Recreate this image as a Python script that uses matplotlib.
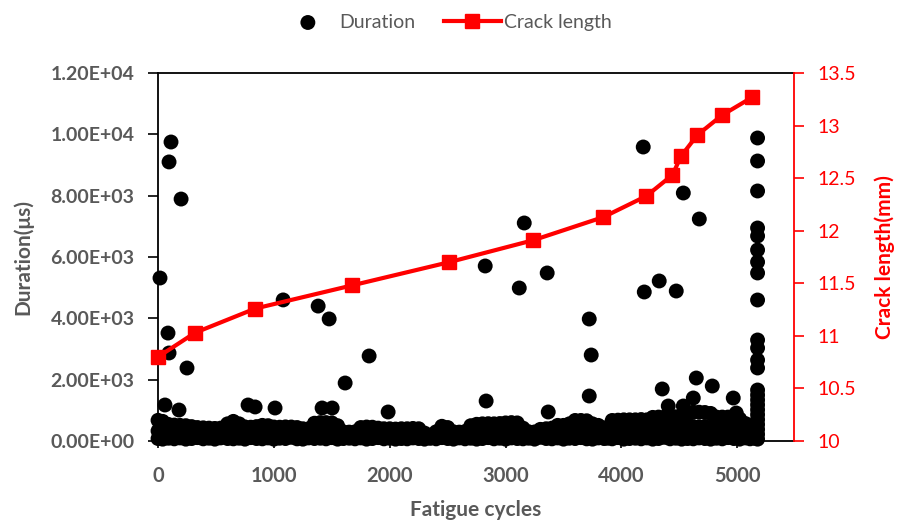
import matplotlib.pyplot as plt
from matplotlib.ticker import FuncFormatter, MultipleLocator

plt.rcParams['font.family'] = ['Lato', 'DejaVu Sans']

# 裂纹长度随疲劳循环的变化
crack_cycles = [0, 320, 840, 1675, 2510, 3240, 3845, 4215, 4440, 4515, 4655, 4870, 5130]
crack_len = [10.80, 11.03, 11.26, 11.48, 11.70, 11.91, 12.13, 12.33, 12.53, 12.71, 12.91, 13.10, 13.27]

# 声发射信号持续时间: 离散的大值点
out_cycles = [112, 95, 199, 17, 1080, 1382, 1477, 86, 95, 250, 60, 181, 1822,
              777, 838, 1010, 1416, 1503, 1986, 1615, 2824, 2832, 3161, 3118,
              3359, 3368, 3722, 3739, 3722, 4188, 4534, 4672, 4197, 4326, 4473,
              4352, 4646, 4784, 4965, 4404, 4534, 4620, 4991]
out_dur = [9750, 9100, 7890, 5315, 4600, 4400, 3980, 3520, 2870, 2380, 1174, 1010, 2772,
           1174, 1110, 1076, 1076, 1076, 946, 1891, 5707, 1304, 7109, 4989,
           5479, 946, 3978, 2804, 1467, 9587, 8087, 7239, 4859, 5218, 4891,
           1696, 2054, 1793, 1402, 1141, 1141, 1402, 913]

# 低幅值密集信号
band_cycles = [0, 40, 90, 140, 190, 240, 290, 340, 390, 440,
               490, 540, 600, 650, 700, 750, 800, 850, 900, 950,
               1000, 1050, 1100, 1150, 1200, 1250, 1300, 1350, 1400, 1450,
               1500, 1550, 1600, 1650, 1700, 1750, 1800, 1850, 1900, 1950,
               2000, 2050, 2100, 2150, 2200, 2250, 2300, 2350, 2400, 2450,
               2500, 2550, 2600, 2650, 2700, 2750, 2800, 2850, 2900, 2950,
               3000, 3050, 3100, 3150, 3200, 3250, 3300, 3350, 3400, 3450,
               3500, 3550, 3600, 3650, 3700, 3750, 3800, 3850, 3880, 3920,
               3970, 4020, 4070, 4120, 4170, 4220, 4270, 4320, 4370, 4420,
               4470, 4520, 4570, 4620, 4670, 4720, 4770, 4820, 4870, 4920,
               4970, 5020, 5070, 5110, 5150]
band_top = [675, 640, 540, 520, 510, 500, 470, 440, 430, 420,
            410, 420, 560, 640, 560, 460, 450, 470, 510, 500,
            456, 450, 460, 456, 440, 400, 400, 580, 600, 600,
            590, 500, 300, 290, 300, 440, 456, 450, 420, 400,
            400, 390, 400, 400, 410, 400, 260, 190, 300, 480,
            440, 300, 290, 310, 500, 545, 560, 565, 560, 570,
            590, 600, 590, 420, 300, 295, 380, 400, 420, 510,
            510, 560, 670, 670, 660, 560, 510, 430, 350, 670,
            680, 690, 690, 690, 700, 690, 770, 780, 780, 780,
            790, 800, 860, 940, 940, 930, 900, 780, 780, 780,
            770, 720, 570, 480, 500]
band_mid = [330, 310, 260, 250, 240, 260, 230, 220, 210, 200,
            190, 210, 280, 320, 270, 220, 230, 240, 250, 240,
            230, 220, 240, 220, 210, 190, 200, 290, 300, 310,
            290, 250, 150, 140, 160, 220, 230, 220, 210, 190,
            200, 190, 210, 190, 200, 190, 130, 100, 150, 240,
            220, 150, 140, 160, 250, 270, 280, 290, 270, 280,
            300, 290, 300, 210, 150, 140, 190, 200, 210, 250,
            260, 280, 330, 340, 320, 280, 250, 210, 170, 330,
            340, 350, 340, 350, 360, 340, 390, 400, 380, 390,
            400, 410, 430, 470, 460, 470, 450, 390, 400, 380,
            380, 360, 290, 240, 250]
band_low = [80, 60, 90, 70, 100, 60, 80, 110, 70, 90,
            60, 100, 80, 70, 90, 60, 110, 80, 70, 100,
            60, 90, 80, 120, 70, 60, 100, 80, 90, 70,
            110, 60, 80, 90, 70, 100, 60, 80, 110, 70,
            90, 60, 80, 70, 100, 80, 60, 90, 70, 110,
            80, 60, 100, 70, 90, 60, 80, 110, 70, 90,
            60, 100, 80, 70, 90, 60, 120, 80, 70, 100,
            60, 90, 80, 110, 70, 60, 100, 80, 90, 70,
            110, 60, 80, 90, 70, 100, 60, 80, 120, 70,
            90, 60, 80, 70, 100, 80, 60, 90, 70, 110,
            80, 60, 100, 70, 90]

# 最后一次加载时的信号
last_dur = [9881, 9131, 8153, 6946, 6685, 6229, 5837, 5479, 4598, 3294, 3033, 2641,
            2381, 1663, 1500, 1340, 1180, 1020, 860, 700, 540, 380, 220, 60]
last_cycles = [5175] * len(last_dur)

gray = '#595959'

fig = plt.figure(figsize=(9, 5.26), dpi=100)
ax = fig.add_axes([0.1756, 0.1616, 0.7067, 0.6996])

dur_x = out_cycles + band_cycles * 3 + last_cycles
dur_y = out_dur + band_top + band_mid + band_low + last_dur
sc = ax.scatter(dur_x, dur_y, s=115, c='black', edgecolors='none', clip_on=False,
                zorder=3, label='Duration')

ax.set_xlim(0, 5490)
ax.set_ylim(0, 12000)
ax.xaxis.set_major_locator(MultipleLocator(1000))
ax.yaxis.set_major_locator(MultipleLocator(2000))
ax.yaxis.set_major_formatter(FuncFormatter(lambda v, p: '{:.2E}'.format(v)))
ax.tick_params(axis='y', direction='out', length=7, width=1.2, colors='black',
               labelcolor=gray, labelsize=14, pad=10)
ax.tick_params(axis='x', direction='out', length=5, width=1.2, colors='black',
               labelcolor=gray, labelsize=14.5, pad=13)
for lab in ax.get_xticklabels() + ax.get_yticklabels():
    lab.set_fontweight('bold')
for s in ['left', 'bottom', 'top']:
    ax.spines[s].set_linewidth(1.3)
ax.spines['right'].set_visible(False)

ax.set_xlabel('Fatigue cycles', fontsize=15, fontweight='bold', color=gray)
ax.xaxis.set_label_coords(0.5, -0.16)
ax.set_ylabel('Duration(μs)', fontsize=15, fontweight='bold', color=gray)
ax.yaxis.set_label_coords(-0.1965, 0.5)

ax2 = ax.twinx()
ln, = ax2.plot(crack_cycles, crack_len, color='red', lw=3, marker='s', ms=9.5,
               clip_on=False, zorder=4, label='Crack length')
ax2.set_ylim(10, 13.5)
ax2.yaxis.set_major_locator(MultipleLocator(0.5))
ax2.yaxis.set_major_formatter(FuncFormatter(lambda v, p: '{:g}'.format(v)))
ax2.tick_params(axis='y', direction='out', length=7, width=1.2, colors='red',
                labelsize=14, pad=10)
for s in ['left', 'bottom', 'top']:
    ax2.spines[s].set_visible(False)
ax2.spines['right'].set_color('red')
ax2.spines['right'].set_linewidth(1.3)
ax2.set_ylabel('Crack length(mm)', fontsize=15, fontweight='bold', color='red')
ax2.yaxis.set_label_coords(1.127, 0.5)

fig.legend([sc, ln], ['Duration', 'Crack length'], loc='center',
           bbox_to_anchor=(0.495, 0.958), ncol=2, frameon=False, fontsize=14,
           handlelength=2.9, handletextpad=0.15, columnspacing=1.5,
           labelcolor=gray)

fig.savefig('out.png', dpi=100)
